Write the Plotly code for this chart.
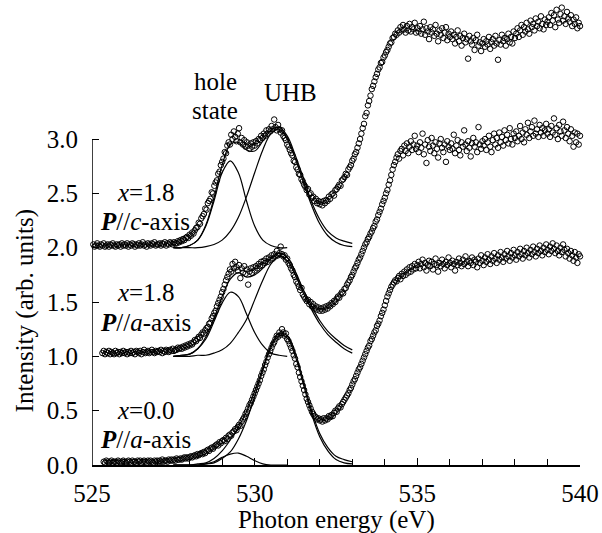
import numpy as np
import plotly.graph_objects as go

# ---------------- data ----------------
STEP = 0.04
TOP_START = 525.04   # x=1.8, P//c-axis
MID_START = 525.32   # x=1.8, P//a-axis
BOT_START = 525.36   # x=0.0, P//a-axis

top_vals = [
 2.03,2.01,2.02,2.04,2.02,2.01,2.03,2.02,2.04,2.01,2.02,2.03,2.01,2.03,2.02,2.04,2.02,2.01,2.03,2.02,2.03,2.01,2.04,2.02,2.03,
 2.02,2.04,2.01,2.03,2.02,2.04,2.03,2.01,2.03,2.02,2.04,2.02,2.03,2.05,2.02,2.03,2.01,2.04,2.03,2.02,2.04,2.03,2.05,2.02,2.03,
 2.03,2.04,2.02,2.04,2.03,2.05,2.02,2.04,2.03,2.05,2.04,2.03,2.05,2.04,2.04,2.06,2.05,2.07,2.06,2.08,2.07,2.09,2.10,2.09,2.12,
 2.11,2.14,2.13,2.16,2.18,2.19,2.23,2.22,2.27,2.29,2.31,2.36,2.35,2.41,2.43,2.45,2.51,2.50,2.57,2.60,2.62,2.68,2.70,2.76,2.79,
 2.82,2.88,2.87,2.94,2.97,2.95,3.04,3.00,3.07,3.02,2.98,3.05,3.10,2.97,3.01,2.95,2.99,2.93,2.97,2.94,2.91,2.96,2.93,2.97,2.94,
 2.98,2.96,3.00,2.99,3.03,3.01,3.05,3.03,3.08,3.05,3.09,3.07,3.12,3.09,3.18,3.11,3.08,3.13,3.09,3.06,3.08,3.03,3.01,2.99,2.95,
 2.93,2.90,2.87,2.85,2.80,2.79,2.74,2.72,2.68,2.67,2.63,2.61,2.58,2.56,2.53,2.54,2.49,2.50,2.46,2.47,2.43,2.45,2.41,2.43,2.40,
 2.42,2.39,2.43,2.41,2.44,2.43,2.47,2.45,2.49,2.50,2.48,2.53,2.54,2.56,2.58,2.57,2.62,2.63,2.65,2.68,2.67,2.72,2.74,2.76,2.80,
 2.82,2.86,2.88,2.92,2.96,3.00,3.05,3.10,3.14,3.21,3.24,3.31,3.35,3.40,3.46,3.49,3.53,3.57,3.60,3.64,3.66,3.70,3.71,3.75,3.77,
 3.80,3.82,3.85,3.88,3.89,3.93,3.94,3.97,3.96,4.00,3.98,4.03,4.00,4.05,4.01,3.98,4.04,4.00,4.06,3.99,4.03,4.01,4.07,3.98,4.02,
 3.99,4.04,3.97,4.01,4.08,3.96,4.02,3.99,3.92,4.03,3.98,4.01,3.95,4.05,3.97,3.90,4.00,3.96,4.02,3.93,3.98,4.03,3.91,3.97,3.94,
 3.99,3.92,3.96,3.88,3.94,4.00,3.90,3.95,3.86,3.93,3.97,3.89,3.92,3.74,3.95,3.90,3.87,3.93,3.82,3.91,3.96,3.86,3.89,3.81,3.88,
 3.92,3.85,3.90,3.87,3.94,3.83,3.89,3.92,3.86,3.95,3.88,3.73,3.91,3.87,3.96,3.90,3.93,3.86,3.92,3.97,3.89,3.94,3.88,3.99,3.93,
 3.97,4.02,3.94,4.00,4.05,3.96,4.03,3.99,4.07,4.01,3.97,4.09,4.03,4.06,4.00,4.11,4.04,4.08,4.02,4.13,4.06,4.01,4.10,4.05,4.08,
 4.12,4.05,4.16,4.09,4.14,4.03,4.19,4.10,4.07,4.15,4.21,4.09,4.13,4.06,4.17,4.11,4.08,4.14,4.04,4.10,4.06,4.12,4.02,4.07,4.04,
]

mid_vals = [
 1.03,1.05,1.02,1.04,1.03,1.05,1.02,1.04,1.03,1.02,1.05,1.03,1.04,1.02,1.04,1.03,1.05,1.03,
 1.04,1.02,1.04,1.03,1.05,1.03,1.04,1.02,1.05,1.04,1.03,1.05,1.02,1.04,1.06,1.03,1.04,1.05,1.03,1.04,1.06,1.04,1.03,1.05,1.04,
 1.05,1.04,1.06,1.03,1.05,1.04,1.06,1.05,1.04,1.06,1.05,1.07,1.05,1.06,1.06,1.08,1.07,1.08,1.07,1.09,1.08,1.10,1.09,1.11,1.10,
 1.12,1.11,1.13,1.15,1.14,1.16,1.18,1.17,1.20,1.22,1.21,1.24,1.26,1.27,1.30,1.31,1.35,1.37,1.40,1.42,1.46,1.49,1.52,1.55,1.59,
 1.62,1.66,1.70,1.73,1.76,1.80,1.78,1.85,1.81,1.87,1.82,1.79,1.84,1.72,1.81,1.77,1.83,1.76,1.80,1.66,1.78,1.81,1.77,1.82,1.79,
 1.83,1.81,1.85,1.83,1.87,1.84,1.88,1.86,1.90,1.87,1.91,1.89,1.93,1.90,1.94,1.92,1.97,1.93,1.95,2.01,1.94,1.92,1.93,1.89,1.90,
 1.86,1.84,1.81,1.79,1.75,1.73,1.69,1.67,1.64,1.61,1.63,1.57,1.55,1.53,1.51,1.52,1.48,1.50,1.46,1.48,1.44,1.46,1.43,1.45,1.42,
 1.44,1.42,1.45,1.43,1.46,1.44,1.47,1.46,1.49,1.48,1.51,1.50,1.53,1.55,1.54,1.57,1.59,1.58,1.62,1.63,1.66,1.68,1.70,1.73,1.75,
 1.78,1.81,1.83,1.86,1.89,1.91,1.94,1.97,2.00,2.03,2.05,2.08,2.10,2.13,2.15,2.18,2.20,2.24,2.26,2.30,2.33,2.36,2.40,2.43,2.46,
 2.50,2.53,2.58,2.62,2.67,2.72,2.76,2.79,2.83,2.86,2.82,2.89,2.91,2.85,2.94,2.89,2.96,2.87,2.93,2.98,2.90,2.95,3.03,2.91,2.94,
 2.88,2.97,2.92,3.05,2.86,2.95,2.78,2.99,2.93,2.89,3.01,2.94,2.87,2.97,2.91,2.83,2.96,3.00,2.92,2.88,2.95,2.79,2.98,2.93,2.90,
 2.96,2.91,3.04,2.87,2.94,2.99,2.90,2.85,2.97,2.93,3.08,2.95,2.89,2.98,2.92,2.84,2.96,3.01,2.93,2.97,2.88,3.11,2.95,2.91,2.98,
 2.94,3.00,2.90,2.97,3.03,2.93,2.88,2.99,3.05,2.95,3.01,2.92,3.06,2.97,3.02,2.94,3.08,2.99,3.04,2.96,3.10,3.00,2.95,3.05,3.01,
 3.07,2.98,3.03,3.12,3.00,3.06,2.97,3.09,3.04,3.15,3.01,3.07,3.11,3.03,3.17,3.05,3.09,3.02,3.13,3.06,3.10,3.03,3.08,3.14,3.05,
 3.09,3.02,3.12,3.06,3.19,3.04,3.10,3.00,3.13,3.07,3.03,3.16,3.08,3.01,3.11,3.05,2.98,3.09,3.03,2.93,3.06,2.97,3.05,2.95,3.03,
]

bot_vals = [
 0.03,0.02,0.04,0.03,0.02,0.03,0.04,0.02,0.03,0.03,0.02,0.04,0.03,0.02,0.03,0.04,0.03,
 0.02,0.03,0.04,0.03,0.02,0.04,0.03,0.03,0.02,0.04,0.03,0.04,0.02,0.03,0.04,0.03,0.02,0.04,0.03,0.04,0.03,0.02,0.04,0.03,0.04,
 0.03,0.04,0.03,0.05,0.03,0.04,0.04,0.03,0.05,0.04,0.05,0.04,0.05,0.04,0.06,0.05,0.05,0.06,0.05,0.06,0.07,0.06,0.07,0.06,0.07,
 0.08,0.07,0.08,0.09,0.08,0.10,0.09,0.10,0.11,0.10,0.12,0.11,0.13,0.14,0.13,0.15,0.16,0.15,0.17,0.18,0.19,0.18,0.21,0.20,0.22,
 0.23,0.22,0.25,0.24,0.27,0.28,0.27,0.30,0.31,0.33,0.32,0.35,0.37,0.36,0.40,0.42,0.44,0.47,0.49,0.52,0.55,0.57,0.60,0.63,0.66,
 0.69,0.72,0.75,0.78,0.82,0.85,0.88,0.92,0.95,0.99,1.02,1.05,1.08,1.11,1.13,1.16,1.19,1.18,1.22,1.20,1.25,1.22,1.19,1.21,1.16,
 1.14,1.11,1.08,1.05,1.01,0.98,0.93,0.90,0.85,0.81,0.77,0.73,0.69,0.65,0.61,0.58,0.55,0.52,0.49,0.47,0.45,0.44,0.42,0.43,0.41,
 0.42,0.40,0.43,0.41,0.43,0.42,0.45,0.44,0.46,0.45,0.48,0.50,0.49,0.52,0.54,0.53,0.56,0.58,0.60,0.62,0.64,0.66,0.69,0.71,0.74,
 0.77,0.79,0.82,0.85,0.88,0.90,0.93,0.96,0.99,1.02,1.05,1.08,1.10,1.14,1.16,1.19,1.22,1.24,1.28,1.30,1.33,1.37,1.40,1.43,1.47,
 1.51,1.55,1.58,1.61,1.64,1.66,1.68,1.70,1.69,1.72,1.74,1.71,1.76,1.74,1.78,1.75,1.80,1.77,1.82,1.78,1.83,1.80,1.85,1.81,1.84,
 1.87,1.81,1.85,1.89,1.82,1.86,1.79,1.84,1.88,1.83,1.87,1.80,1.85,1.90,1.84,1.78,1.86,1.83,1.89,1.85,1.81,1.87,1.84,1.91,1.86,
 1.82,1.88,1.85,1.79,1.87,1.84,1.90,1.86,1.83,1.89,1.85,1.92,1.87,1.83,1.88,1.86,1.91,1.84,1.89,1.87,1.82,1.90,1.86,1.93,1.88,
 1.84,1.91,1.87,1.94,1.89,1.85,1.92,1.88,1.95,1.90,1.86,1.93,1.89,1.96,1.91,1.87,1.94,1.90,1.97,1.92,1.88,1.95,1.91,1.98,1.93,
 1.89,1.96,1.92,1.99,1.94,1.90,1.97,1.93,2.00,1.95,1.91,1.98,1.94,2.01,1.96,1.92,1.99,1.95,2.02,1.97,1.93,2.00,1.96,2.03,1.98,
 1.94,2.01,1.97,2.04,1.99,1.95,2.02,1.97,1.93,2.00,1.96,2.03,1.98,1.92,1.99,1.95,1.90,1.97,1.93,1.88,1.96,1.91,1.86,1.94,1.92,
]

# fitted components, grid 527.5 .. 533.0 every 0.25 eV
FIT_START = 527.5
FIT_STEP = 0.25
top_hole = [2.00,2.00,2.02,2.07,2.20,2.43,2.69,2.80,2.69,2.43,2.20,2.07,2.02,2.00,2.00]
top_uhb  = [2.00,2.00,2.00,2.00,2.01,2.03,2.07,2.15,2.28,2.47,2.69,2.90,3.05,3.09,3.00,2.82,2.60,2.39,2.22,2.11,2.05,2.02,2.01]
top_sum  = [2.00,2.00,2.02,2.07,2.21,2.46,2.76,2.95,2.97,2.90,2.89,2.98,3.08,3.11,3.03,2.85,2.64,2.42,2.26,2.15,2.09,2.06,2.04]
mid_hole = [1.00,1.01,1.02,1.07,1.16,1.32,1.49,1.59,1.55,1.39,1.22,1.10,1.03,1.01,1.00]
mid_uhb  = [1.00,1.00,1.00,1.01,1.01,1.03,1.06,1.12,1.22,1.34,1.52,1.70,1.85,1.92,1.88,1.75,1.58,1.43,1.30,1.20,1.13,1.07,1.03]
mid_sum  = [1.00,1.01,1.02,1.07,1.18,1.35,1.55,1.71,1.77,1.73,1.75,1.81,1.90,1.95,1.91,1.78,1.61,1.46,1.33,1.23,1.16,1.10,1.06]
bot_hole = [0.00,0.00,0.00,0.00,0.01,0.03,0.07,0.10,0.11,0.08,0.04,0.01,0.00,0.00,0.00]
bot_uhb  = [0.00,0.00,0.00,0.00,0.01,0.02,0.06,0.12,0.24,0.41,0.63,0.87,1.08,1.19,1.17,1.00,0.74,0.47,0.26,0.13,0.05,0.02,0.01]
bot_sum  = [0.00,0.00,0.00,0.01,0.02,0.06,0.13,0.23,0.35,0.49,0.68,0.89,1.10,1.21,1.19,1.03,0.77,0.50,0.29,0.16,0.08,0.05,0.03]

x_ticks = [525, 530, 535, 540]
y_ticks = [0.0, 0.5, 1.0, 1.5, 2.0, 2.5, 3.0]

FONT = "Liberation Serif"


def grid(start, step, n):
    return start + step * np.arange(n)


fig = go.Figure()

# fitted lines
for arr in [top_hole, top_uhb, top_sum, mid_hole, mid_uhb, mid_sum, bot_hole, bot_uhb, bot_sum]:
    fig.add_trace(go.Scatter(
        x=grid(FIT_START, FIT_STEP, len(arr)), y=arr, mode="lines",
        line=dict(color="black", width=1.2, shape="spline", smoothing=1.0),
        hoverinfo="skip", showlegend=False))

# measured spectra
for start, vals in [(TOP_START, top_vals), (MID_START, mid_vals), (BOT_START, bot_vals)]:
    fig.add_trace(go.Scatter(
        x=grid(start, STEP, len(vals)), y=vals, mode="markers",
        marker=dict(symbol="circle-open", size=5.5, color="black", line=dict(width=1)),
        cliponaxis=False, showlegend=False))

# y axis line only up to 3.0
fig.add_shape(type="line", xref="x", yref="y", x0=525, x1=525, y0=0, y1=3.0,
              line=dict(color="black", width=1.5))

ann_font = dict(family=FONT, size=25, color="black")
labels = [
    ("<i>x</i>=1.8", 526.64, 2.51),
    ("<b><i>P</i></b>//<i>c</i>-axis", 526.64, 2.245),
    ("<i>x</i>=1.8", 526.64, 1.585),
    ("<b><i>P</i></b>//<i>a</i>-axis", 526.64, 1.31),
    ("<i>x</i>=0.0", 526.64, 0.50),
    ("<b><i>P</i></b>//<i>a</i>-axis", 526.64, 0.235),
    ("hole", 528.79, 3.53),
    ("state", 528.79, 3.265),
    ("UHB", 531.09, 3.43),
]
for txt, xx, yy in labels:
    fig.add_annotation(x=xx, y=yy, xref="x", yref="y", text=txt, showarrow=False,
                       font=ann_font, xanchor="center", yanchor="middle")

fig.add_annotation(x=-0.1366, y=0.331, xref="paper", yref="paper",
                   text="Intensity (arb. units)", textangle=-90, showarrow=False,
                   font=ann_font, xanchor="center", yanchor="middle")
fig.add_annotation(x=0.5, y=-0.118, xref="paper", yref="paper",
                   text="Photon energy (eV)", showarrow=False,
                   font=ann_font, xanchor="center", yanchor="middle")

fig.update_xaxes(range=[525, 540], tickvals=x_ticks, ticktext=[str(v) for v in x_ticks],
                 ticks="inside", ticklen=7, tickwidth=1.2, tickcolor="black",
                 minor=dict(dtick=1, ticks="inside", ticklen=6, tickcolor="black", tickwidth=1),
                 showline=True, linecolor="black", linewidth=1.5,
                 showgrid=False, zeroline=False,
                 tickfont=dict(family=FONT, size=25, color="black"),
                 ticklabelstandoff=5)
fig.update_yaxes(range=[0, 4.28], tickvals=y_ticks, ticktext=[f"{v:.1f}" for v in y_ticks],
                 ticks="inside", ticklen=7, tickwidth=1.2, tickcolor="black",
                 showline=False, showgrid=False, zeroline=False,
                 tickfont=dict(family=FONT, size=25, color="black"),
                 ticklabelstandoff=13)

fig.update_layout(width=602, height=533, margin=dict(l=92, r=22, t=0, b=68),
                  plot_bgcolor="white", paper_bgcolor="white", showlegend=False,
                  font=dict(family=FONT, color="black"))

fig.write_html("out.html", post_script="document.body.style.margin='0px';",
               config={"displayModeBar": False})
